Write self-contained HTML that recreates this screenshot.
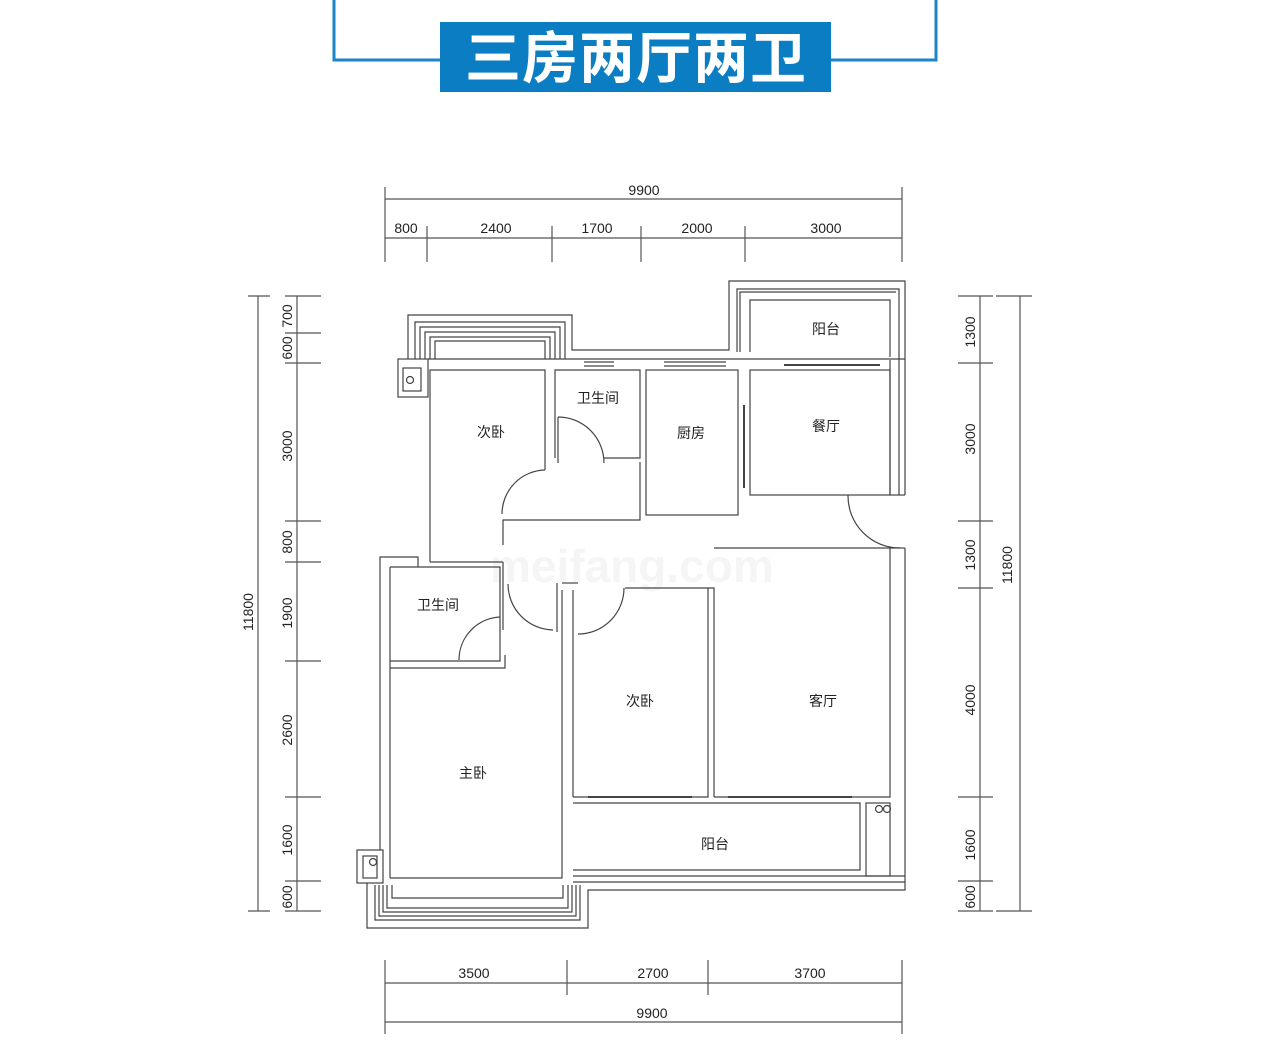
<!DOCTYPE html>
<html><head><meta charset="utf-8"><style>
html,body{margin:0;padding:0;background:#fff;}
svg{display:block}
text{font-family:"Liberation Sans","Noto Sans CJK SC",sans-serif;fill:#222}
</style></head><body>
<svg width="1280" height="1057" viewBox="0 0 1280 1057" xmlns="http://www.w3.org/2000/svg">
<polyline points="334,0 334,60 440,60" fill="none" stroke="#1a86c8" stroke-width="3"/>
<polyline points="830,60 936,60 936,0" fill="none" stroke="#1a86c8" stroke-width="3"/>
<rect x="440" y="22" width="391" height="70" fill="#0a7dc3"/>
<text x="636" y="78" text-anchor="middle" font-size="56" font-weight="bold" style="fill:#fff;font-family:'Noto Sans CJK SC',sans-serif" letter-spacing="1">三房两厅两卫</text>

<text x="490" y="582" font-size="46" style="fill:#f5f5f5" font-weight="bold">meifang.com</text>

<g stroke="#555" stroke-width="1.2" fill="none">
<line x1="385" y1="199" x2="902" y2="199"/>
<line x1="385" y1="238" x2="902" y2="238"/>
<line x1="385" y1="187" x2="385" y2="262"/><line x1="902" y1="187" x2="902" y2="262"/>
<line x1="427" y1="226" x2="427" y2="262"/><line x1="552" y1="226" x2="552" y2="262"/>
<line x1="641" y1="226" x2="641" y2="262"/><line x1="745" y1="226" x2="745" y2="262"/>
<line x1="258" y1="296" x2="258" y2="911"/>
<line x1="297" y1="296" x2="297" y2="911"/>
<line x1="248" y1="296" x2="270" y2="296"/><line x1="248" y1="911" x2="270" y2="911"/>
<line x1="285" y1="296" x2="321" y2="296"/><line x1="285" y1="333" x2="321" y2="333"/>
<line x1="285" y1="363" x2="321" y2="363"/><line x1="285" y1="521" x2="321" y2="521"/>
<line x1="285" y1="562" x2="321" y2="562"/><line x1="285" y1="661" x2="321" y2="661"/>
<line x1="285" y1="797" x2="321" y2="797"/><line x1="285" y1="881" x2="321" y2="881"/>
<line x1="285" y1="911" x2="321" y2="911"/>
<line x1="980" y1="296" x2="980" y2="911"/>
<line x1="1020" y1="296" x2="1020" y2="911"/>
<line x1="958" y1="296" x2="993" y2="296"/><line x1="996" y1="296" x2="1032" y2="296"/>
<line x1="958" y1="363" x2="993" y2="363"/><line x1="958" y1="521" x2="993" y2="521"/>
<line x1="958" y1="588" x2="993" y2="588"/><line x1="958" y1="797" x2="993" y2="797"/>
<line x1="958" y1="881" x2="993" y2="881"/><line x1="958" y1="911" x2="993" y2="911"/>
<line x1="996" y1="911" x2="1032" y2="911"/>
<line x1="385" y1="983" x2="902" y2="983"/>
<line x1="385" y1="1022" x2="902" y2="1022"/>
<line x1="385" y1="960" x2="385" y2="1034"/><line x1="902" y1="960" x2="902" y2="1034"/>
<line x1="567" y1="960" x2="567" y2="995"/><line x1="708" y1="960" x2="708" y2="995"/>
</g>
<g font-size="14">
<text x="644" y="195" text-anchor="middle">9900</text>
<text x="406" y="233" text-anchor="middle">800</text>
<text x="496" y="233" text-anchor="middle">2400</text>
<text x="597" y="233" text-anchor="middle">1700</text>
<text x="697" y="233" text-anchor="middle">2000</text>
<text x="826" y="233" text-anchor="middle">3000</text>
<text x="474" y="978" text-anchor="middle">3500</text>
<text x="653" y="978" text-anchor="middle">2700</text>
<text x="810" y="978" text-anchor="middle">3700</text>
<text x="652" y="1018" text-anchor="middle">9900</text>
<g text-anchor="middle">
<text transform="translate(292,316) rotate(-90)">700</text>
<text transform="translate(292,348) rotate(-90)">600</text>
<text transform="translate(292,446) rotate(-90)">3000</text>
<text transform="translate(292,542) rotate(-90)">800</text>
<text transform="translate(292,613) rotate(-90)">1900</text>
<text transform="translate(292,730) rotate(-90)">2600</text>
<text transform="translate(292,840) rotate(-90)">1600</text>
<text transform="translate(292,897) rotate(-90)">600</text>
<text transform="translate(253,612) rotate(-90)">11800</text>
<text transform="translate(975,332) rotate(-90)">1300</text>
<text transform="translate(975,439) rotate(-90)">3000</text>
<text transform="translate(975,555) rotate(-90)">1300</text>
<text transform="translate(975,700) rotate(-90)">4000</text>
<text transform="translate(975,845) rotate(-90)">1600</text>
<text transform="translate(975,897) rotate(-90)">600</text>
<text transform="translate(1012,565) rotate(-90)">11800</text>
</g>
</g>

<g stroke="#444" stroke-width="1.2" fill="none">
<polyline points="408,359 408,315 572,315 572,350 729,350 729,281 905,281 905,495"/>
<polyline points="905,548 905,890 588,890 588,928 367,928 367,883"/>
<rect x="357" y="850" width="26" height="33"/>
<rect x="363" y="856" width="14" height="22"/>
<circle cx="373" cy="862" r="3.5"/>
<polyline points="380,850 380,557 418,557 418,567"/>
<rect x="398" y="359" width="30" height="38"/>
<rect x="403" y="368" width="18" height="23"/>
<circle cx="410" cy="380" r="3.5"/>
<line x1="428" y1="359" x2="905" y2="359"/>
<polyline points="415,359 415,322 565,322 565,359"/>
<polyline points="420,359 420,327 560,327 560,359"/>
<polyline points="425,359 425,332 555,332 555,359"/>
<polyline points="430,359 430,337 550,337 550,359"/>
<polyline points="435,359 435,341 545,341 545,359"/>
<polyline points="737,352 737,289 899,289 899,495"/>
<polyline points="740,352 740,292 896,292"/>
<polyline points="750,352 750,300 890,300 890,357"/>
<rect x="750" y="370" width="140" height="125"/>
<rect x="646" y="370" width="92" height="145"/>
<polyline points="555,458 555,370 640,370 640,458 604,458"/>
<polyline points="640,462 640,520 503,520 503,545"/>
<polyline points="430,562 430,370 545,370 545,470"/>
<polyline points="430,562 503,562"/>
<polyline points="503,562 503,630"/>
<polyline points="390,567 500,567 500,661 390,661"/>
<polyline points="390,567 390,878"/>
<polyline points="390,668 505,668 505,655"/>
<polyline points="562,590 562,878 390,878"/>
<polyline points="573,590 573,797"/>
<polyline points="625,588 714,588 714,797"/>
<polyline points="708,588 708,797 573,797"/>
<polyline points="714,548 890,548 890,797 714,797"/>
<line x1="890" y1="495" x2="905" y2="495"/>
<line x1="890" y1="548" x2="905" y2="548"/>
<line x1="890" y1="360" x2="890" y2="495"/>
<polyline points="573,803 860,803 860,870 573,870"/>
<line x1="573" y1="876" x2="905" y2="876"/>
<line x1="573" y1="882" x2="905" y2="882"/>
<rect x="866" y="803" width="24" height="73"/>
<circle cx="879" cy="809" r="3.5"/><circle cx="887" cy="809" r="3.5"/>
<polyline points="375,885 375,920 580,920 580,885"/>
<polyline points="379,885 379,916 576,916 576,885"/>
<polyline points="383,885 383,912 572,912 572,885"/>
<polyline points="387,885 387,908 568,908 568,885"/>
<polyline points="392,885 392,898 563,898 563,885"/>
<path d="M558,417 A46,46 0 0 1 604,463"/>
<line x1="558" y1="417" x2="558" y2="463"/>
<path d="M545,470 A44,44 0 0 0 502,514"/>
<path d="M500,617 A43,43 0 0 0 459,660"/>
<path d="M508,584 A46,46 0 0 0 553,630"/>
<path d="M578,634 A46,46 0 0 0 624,588"/>
<path d="M848,495 A52,52 0 0 0 900,548"/>
<line x1="557" y1="583" x2="557" y2="632"/>
<line x1="562" y1="583" x2="578" y2="583"/>
<line x1="584" y1="362" x2="614" y2="362"/><line x1="584" y1="366" x2="614" y2="366"/>
<line x1="664" y1="362" x2="726" y2="362"/><line x1="664" y1="366" x2="726" y2="366"/>
<line x1="588" y1="797" x2="692" y2="797" stroke-width="2"/>
<line x1="728" y1="797" x2="852" y2="797" stroke-width="2"/>
<line x1="784" y1="365" x2="880" y2="365" stroke-width="2"/>
<line x1="744" y1="405" x2="744" y2="488" stroke-width="2"/>
</g>
<g font-size="14" text-anchor="middle" style="font-family:'Noto Sans CJK SC',sans-serif">
<text x="826" y="334">阳台</text>
<text x="826" y="431">餐厅</text>
<text x="691" y="438">厨房</text>
<text x="598" y="403">卫生间</text>
<text x="491" y="437">次卧</text>
<text x="438" y="610">卫生间</text>
<text x="640" y="706">次卧</text>
<text x="823" y="706">客厅</text>
<text x="473" y="778">主卧</text>
<text x="715" y="849">阳台</text>
</g>
</svg>
</body></html>
